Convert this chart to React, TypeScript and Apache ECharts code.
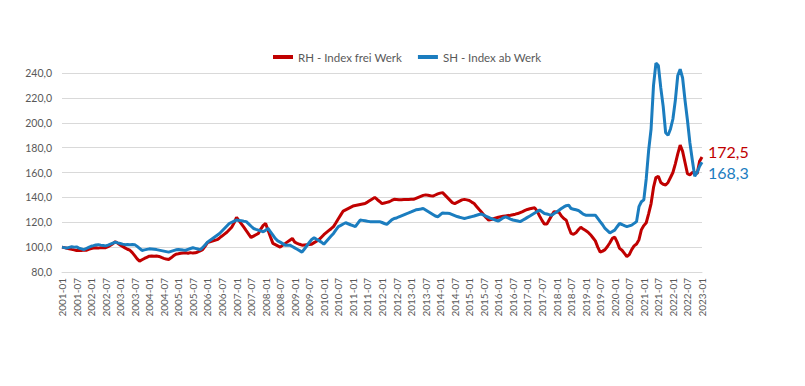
import React, { useEffect, useRef } from "react";
import * as echarts from "echarts";

// Monthly categories 2001-01 .. 2023-01
const firstYear = 2001;
const lastYear = 2023;
const months: string[] = [];
for (let y = firstYear; y <= lastYear; y++) {
  for (let m = 1; m <= 12; m++) {
    if (y === lastYear && m > 1) break;
    months.push(`${y}-${m < 10 ? "0" + m : m}`);
  }
}

const seriesNames = ["RH - Index frei Werk", "SH - Index ab Werk"];

// RH - Index frei Werk (monthly)
const rhIndex = [
  // 2001
  100.0, 99.6, 99.1, 98.7, 98.2, 97.8, 97.3, 97.5, 97.2, 97.6, 97.5, 98.2,
  // 2002
  98.8, 99.3, 99.5, 99.2, 99.6, 99.4, 99.5, 100.4, 101.6, 102.8, 104.3, 103.1,
  // 2003
  101.8, 100.6, 99.4, 98.3, 97.5, 95.6, 93.2, 90.6, 88.7, 89.8, 90.9, 91.8,
  // 2004
  92.7, 92.9, 92.6, 92.8, 92.5, 91.7, 91.0, 90.4, 90.0, 91.4, 93.0, 94.3,
  // 2005
  94.6, 95.0, 95.2, 95.4, 95.1, 95.6, 95.2, 95.4, 96.1, 97.0, 98.0, 100.6,
  // 2006
  103.6, 104.2, 104.8, 105.4, 106.0, 107.4, 108.9, 110.5, 112.0, 114.0, 116.0, 119.5,
  // 2007
  124.0, 121.3, 118.7, 116.0, 113.2, 110.5, 107.7, 108.8, 109.9, 111.0, 114.5, 117.5,
  // 2008
  119.0, 113.6, 108.2, 103.0, 102.0, 101.0, 100.0, 101.4, 102.8, 104.2, 105.6, 107.0,
  // 2009
  104.0, 103.1, 102.3, 101.6, 101.8, 102.0, 102.2, 102.4, 103.6, 104.8, 106.0, 108.0,
  // 2010
  110.0, 111.6, 113.2, 114.8, 116.5, 119.6, 122.8, 125.9, 129.0, 130.0, 131.0, 132.0,
  // 2011
  133.0, 133.4, 133.8, 134.2, 134.6, 135.0, 136.2, 137.5, 138.7, 140.0, 138.3, 136.7,
  // 2012
  135.0, 135.5, 136.0, 136.5, 137.5, 138.4, 138.2, 138.0, 138.1, 138.2, 138.3, 138.3,
  // 2013
  138.4, 138.4, 139.2, 140.0, 140.8, 141.6, 142.0, 141.7, 141.3, 141.0, 141.9, 142.8,
  // 2014
  143.4, 143.8, 141.8, 139.8, 137.8, 135.8, 135.0, 136.0, 137.0, 138.0, 138.4, 138.0,
  // 2015
  137.5, 136.2, 135.0, 132.7, 130.4, 128.2, 125.9, 123.6, 121.7, 122.2, 122.8, 123.4,
  // 2016
  124.0, 124.4, 124.8, 125.1, 125.4, 125.7, 126.1, 126.5, 127.0, 127.8, 128.6, 129.5,
  // 2017
  130.3, 130.8, 131.2, 131.6, 129.0, 125.0, 121.5, 118.5, 118.5, 122.0, 125.5, 128.5,
  // 2018
  128.3, 128.0, 125.0, 123.0, 121.7, 116.0, 111.0, 110.3, 111.5, 114.0, 116.0, 114.5,
  // 2019
  113.3, 112.0, 110.0, 107.5, 105.0, 100.0, 96.0, 96.8, 98.0, 100.5, 103.5, 107.0,
  // 2020
  108.0, 104.0, 99.0, 97.5, 95.0, 92.5, 94.0, 98.0, 101.0, 102.5, 106.0, 114.0,
  // 2021
  117.3, 119.6, 127.0, 135.0, 148.0, 156.0, 157.0, 152.0, 150.5, 150.0, 152.0, 156.0,
  // 2022
  160.0, 167.0, 175.0, 182.0, 177.0, 168.0, 159.0, 158.0, 160.0, 160.0, 159.0, 169.0,
  // 2023
  172.5,
];

// SH - Index ab Werk (monthly)
const shIndex = [
  // 2001
  100.0, 99.6, 99.3, 99.8, 100.3, 100.0, 100.2, 99.2, 98.6, 98.0, 98.9, 99.8,
  // 2002
  100.7, 101.2, 101.8, 102.0, 101.6, 101.3, 101.0, 101.6, 102.4, 103.2, 104.0, 103.4,
  // 2003
  102.9, 102.4, 102.0, 102.2, 102.0, 102.1, 102.0, 100.6, 99.0, 97.3, 97.8, 98.2,
  // 2004
  98.6, 98.4, 98.2, 98.0, 97.6, 97.2, 96.8, 96.4, 96.0, 96.6, 97.2, 97.8,
  // 2005
  98.0, 97.8, 97.6, 97.5, 98.2, 98.9, 99.5, 99.0, 98.5, 98.0, 99.6, 101.8,
  // 2006
  104.0, 105.4, 106.8, 108.2, 109.6, 111.0, 113.0, 115.0, 117.0, 119.0, 120.0, 120.9,
  // 2007
  121.8, 121.5, 121.2, 120.8, 120.5, 118.7, 116.8, 115.0, 114.3, 113.7, 113.0, 112.3,
  // 2008
  113.6, 115.0, 112.3, 109.6, 106.9, 105.0, 104.0, 102.8, 101.6, 101.6, 101.6, 100.5,
  // 2009
  99.4, 98.3, 97.2, 96.0, 98.5, 101.1, 103.7, 106.2, 107.5, 106.3, 105.2, 104.0,
  // 2010
  102.4, 104.6, 106.8, 108.9, 111.0, 113.8, 116.5, 117.5, 118.6, 119.6, 118.8, 118.0,
  // 2011
  117.3, 116.5, 119.1, 121.8, 121.5, 121.2, 120.8, 120.5, 120.5, 120.5, 120.5, 120.5,
  // 2012
  119.8, 119.0, 118.3, 120.1, 121.9, 123.0, 123.4, 124.4, 125.2, 126.0, 126.8, 127.5,
  // 2013
  128.3, 129.2, 130.0, 130.3, 130.6, 131.0, 129.8, 128.6, 127.4, 126.2, 125.0, 124.4,
  // 2014
  126.0, 127.5, 127.3, 127.2, 127.0, 126.2, 125.4, 124.6, 124.0, 123.5, 123.0, 123.5,
  // 2015
  124.0, 124.5, 125.0, 125.6, 126.2, 126.6, 125.7, 124.8, 123.9, 123.0, 122.3, 121.6,
  // 2016
  121.0, 122.3, 123.6, 124.4, 123.5, 122.6, 121.8, 121.4, 121.0, 120.5, 121.6, 122.7,
  // 2017
  123.9, 125.0, 126.2, 127.4, 128.6, 129.8, 128.4, 127.0, 126.6, 126.1, 125.7, 127.0,
  // 2018
  128.3, 129.6, 131.0, 132.3, 133.3, 133.8, 131.0, 130.5, 130.0, 129.5, 128.0, 126.5,
  // 2019
  125.7, 125.7, 125.7, 125.7, 125.7, 123.1, 120.5, 118.0, 115.0, 113.3, 111.5, 112.6,
  // 2020
  113.7, 116.4, 119.0, 118.2, 117.3, 116.5, 117.1, 117.7, 119.1, 120.5, 132.5, 136.5,
  // 2021
  138.0, 155.0, 178.0, 195.0, 230.0, 248.0, 246.0, 228.0, 213.0, 192.0, 190.0, 195.0,
  // 2022
  203.0, 218.0, 238.0, 243.0, 236.0, 218.0, 202.0, 184.0, 170.0, 157.0, 160.0, 165.0,
  // 2023
  168.3,
];

const yTicks = { min: 80, max: 240, interval: 20 };

const RED = "#C00000";
const BLUE = "#1B7DBF";
const FONT = "Lato, 'Noto Sans', sans-serif";

const fmt = (v: number) => v.toFixed(1).replace(".", ",");

export default function App() {
  const ref = useRef<HTMLDivElement>(null);
  useEffect(() => {
    if (!ref.current) return;
    const chart = echarts.init(ref.current, undefined, { renderer: "svg" });
    chart.setOption({
      animation: false,
      backgroundColor: "#ffffff",
      textStyle: { fontFamily: FONT },
      legend: {
        left: 268,
        top: 46,
        icon: "rect",
        itemWidth: 20,
        itemHeight: 4,
        itemGap: 16,
        textStyle: { fontSize: 11.5, color: "#595959", fontFamily: FONT },
        data: seriesNames,
      },
      grid: { left: 62, right: 103, top: 73, bottom: 114, containLabel: false },
      xAxis: {
        type: "category",
        data: months,
        boundaryGap: false,
        axisLine: { show: true, lineStyle: { color: "#d9d9d9" } },
        axisTick: { show: false },
        axisLabel: {
          interval: 5,
          rotate: 90,
          fontSize: 10,
          color: "#595959",
          margin: 6,
          fontFamily: FONT,
        },
      },
      yAxis: {
        type: "value",
        min: yTicks.min,
        max: yTicks.max,
        interval: yTicks.interval,
        axisLine: { show: false },
        axisTick: { show: false },
        splitLine: { lineStyle: { color: "#d9d9d9", width: 1 } },
        axisLabel: {
          formatter: (v: number) => fmt(v),
          fontSize: 10.5,
          color: "#595959",
          margin: 10,
          fontFamily: FONT,
        },
      },
      series: [
        {
          name: seriesNames[0],
          type: "line",
          data: rhIndex,
          symbol: "none",
          clip: false,
          lineStyle: { color: RED, width: 3 },
          itemStyle: { color: RED },
          endLabel: {
            show: true,
            formatter: (p: any) => fmt(p.value),
            color: RED,
            fontSize: 16,
            fontFamily: FONT,
            offset: [-2, -5],
          },
        },
        {
          name: seriesNames[1],
          type: "line",
          data: shIndex,
          symbol: "none",
          clip: false,
          lineStyle: { color: BLUE, width: 3 },
          itemStyle: { color: BLUE },
          endLabel: {
            show: true,
            formatter: (p: any) => fmt(p.value),
            color: BLUE,
            fontSize: 16,
            fontFamily: FONT,
            offset: [-2, 10],
          },
        },
      ],
    });
    return () => chart.dispose();
  }, []);
  return (
    <div
      ref={ref}
      style={{ position: "fixed", left: 0, top: 0, width: 805, height: 386, background: "#fff" }}
    />
  );
}
